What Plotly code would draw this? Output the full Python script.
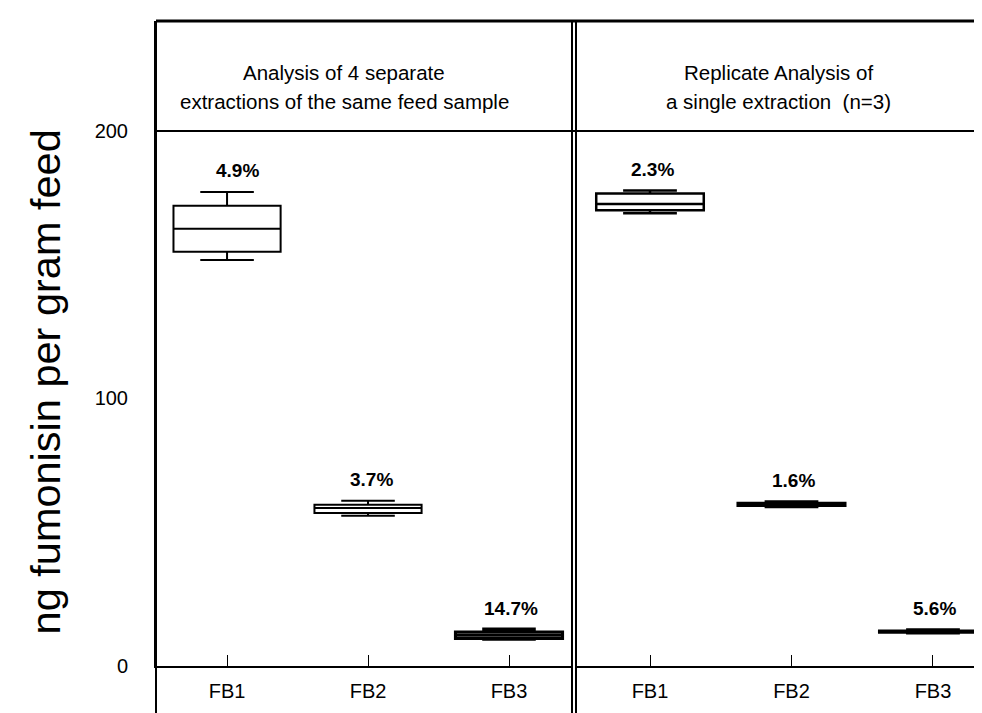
import plotly.graph_objects as go

# ---------------- data ----------------
categories = ["FB1", "FB2", "FB3"]

# Left panel: analysis of 4 separate extractions of the same feed sample
sep_low = [151.8, 56.2, 10.0]
sep_q1 = [154.8, 57.2, 10.3]
sep_med = [163.4, 59.1, 11.5]
sep_q3 = [172.0, 60.3, 12.7]
sep_high = [177.2, 61.8, 13.8]
sep_cv = ["4.9%", "3.7%", "14.7%"]

# Right panel: replicate analysis of a single extraction (n=3)
rep_low = [169.2, 59.4, 12.2]
rep_q1 = [170.4, 59.9, 12.5]
rep_med = [172.7, 60.4, 12.9]
rep_q3 = [176.6, 60.9, 13.2]
rep_high = [177.7, 61.5, 13.6]
rep_cv = ["2.3%", "1.6%", "5.6%"]

y_ticks = [0, 100, 200]
y_title = "ng fumonisin per gram feed"
panel_titles = [
    ["Analysis of 4 separate", "extractions of the same feed sample"],
    ["Replicate Analysis of", "a single extraction  (n=3)"],
]

# ---------------- figure ----------------
FONT = "Liberation Sans, Arial, Helvetica, sans-serif"
W, H = 982, 713
ML, MR, MT, MB = 148, 0, 13, 55
PW = W - ML - MR
PH = H - MT - MB
Y_TOP = 241.1  # axis range above 200 holds the header band

fig = go.Figure()

sep_line_w = [2, 2, 3]
rep_line_w = [2.5, 2.5, 2.5]

def add_boxes(low, q1, med, q3, high, xa, widths):
    for i, c in enumerate(categories):
        fig.add_trace(go.Box(
            x=[c], lowerfence=[low[i]], q1=[q1[i]], median=[med[i]], q3=[q3[i]],
            upperfence=[high[i]],
            xaxis=xa, yaxis="y",
            width=0.76, whiskerwidth=0.5,
            line=dict(color="black", width=widths[i]),
            fillcolor="white", boxpoints=False, showlegend=False,
            hoverinfo="skip",
        ))

add_boxes(sep_low, sep_q1, sep_med, sep_q3, sep_high, "x", sep_line_w)
add_boxes(rep_low, rep_q1, rep_med, rep_q3, rep_high, "x2", rep_line_w)

annotations = []
label_xshift = [10, 3, 2]
for i, c in enumerate(categories):
    annotations.append(dict(x=c, y=sep_high[i], xref="x", yref="y", text="<b>%s</b>" % sep_cv[i],
                            showarrow=False, yanchor="middle", yshift=21, xshift=label_xshift[i],
                            font=dict(family=FONT, size=19, color="black")))
    annotations.append(dict(x=c, y=rep_high[i], xref="x2", yref="y", text="<b>%s</b>" % rep_cv[i],
                            showarrow=False, yanchor="middle", yshift=21, xshift=2,
                            font=dict(family=FONT, size=19, color="black")))

# panel header texts
header_x = [(336 - ML) / PW, (770 - ML) / PW]
header_y = [221.7, 210.9]
for p, lines in enumerate(panel_titles):
    for j, t in enumerate(lines):
        annotations.append(dict(x=header_x[p], y=header_y[j], xref="paper", yref="y", text=t,
                                showarrow=False, xanchor="center", yanchor="middle",
                                font=dict(family=FONT, size=20.5, color="black")))

# y-axis title
annotations.append(dict(x=(37 - ML) / PW, y=106, xref="paper", yref="y", text=y_title,
                        textangle=-90, showarrow=False, xanchor="center", yanchor="middle",
                        font=dict(family=FONT, size=41.5, color="black")))

below = -(H - MT - PH) / PH - 0.01  # down to the bottom edge of the figure
shapes = [
    # left frame
    dict(type="line", xref="paper", yref="paper", x0=0, x1=0, y0=below, y1=1,
         line=dict(color="black", width=2)),
    # double divider between panels
    dict(type="line", xref="paper", yref="paper", x0=(564 - ML) / PW, x1=(564 - ML) / PW,
         y0=below, y1=1, line=dict(color="black", width=2)),
    dict(type="line", xref="paper", yref="paper", x0=(568 - ML) / PW, x1=(568 - ML) / PW,
         y0=below, y1=1, line=dict(color="black", width=2)),
    # top frame
    dict(type="line", xref="paper", yref="paper", x0=0, x1=1, y0=1, y1=1,
         line=dict(color="black", width=3)),
    # header separator at 200
    dict(type="line", xref="paper", yref="y", x0=0, x1=1, y0=200, y1=200,
         line=dict(color="black", width=2)),
]

axis_common = dict(
    type="category", showline=True, linecolor="black", linewidth=2,
    ticks="inside", ticklen=11, tickwidth=1, tickcolor="black",
    tickfont=dict(family=FONT, size=20, color="black"),
    showgrid=False, zeroline=False, fixedrange=True, anchor="y",
    ticklabelstandoff=6,
)

fig.update_layout(
    width=W, height=H,
    margin=dict(l=ML, r=MR, t=MT, b=MB, pad=0),
    paper_bgcolor="white", plot_bgcolor="white",
    showlegend=False,
    xaxis=dict(domain=[0, (565 - ML) / PW], range=[-0.504, 2.454], **axis_common),
    xaxis2=dict(domain=[(568 - ML) / PW, 1], range=[-0.523, 2.403], **axis_common),
    yaxis=dict(range=[0, Y_TOP], tickvals=y_ticks, ticks="", showline=True,
               linecolor="black", linewidth=2, showgrid=False, zeroline=False,
               tickfont=dict(family=FONT, size=20, color="black"),
               ticklabelstandoff=22, fixedrange=True),
    annotations=annotations,
    shapes=shapes,
)

fig.write_html("out.html")
